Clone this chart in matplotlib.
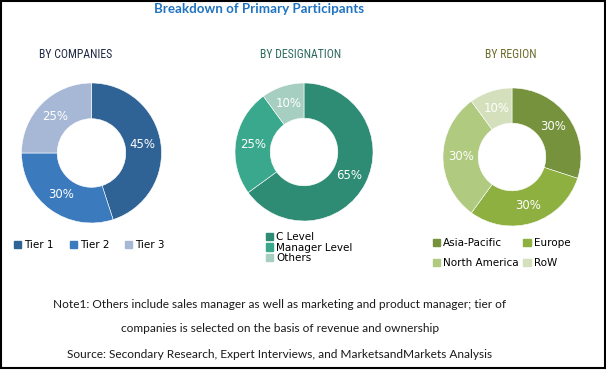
import matplotlib
matplotlib.use("Agg")
import matplotlib.pyplot as plt
from matplotlib.patches import Patch, Rectangle

W, H = 606, 370

# data
company_labels = ["Tier 1", "Tier 2", "Tier 3"]
company_share = [45, 30, 25]
company_colors = ["#2f6295", "#3a7abd", "#a6b8d6"]

designation_labels = ["C Level", "Manager Level", "Others"]
designation_share = [65, 25, 10]
designation_colors = ["#2e8b74", "#3aa88c", "#a7cfc1"]

region_labels = ["Asia-Pacific", "Europe", "North America", "RoW"]
region_share = [30, 30, 30, 10]
region_colors = ["#76923c", "#8db040", "#b0ca80", "#d4e0bc"]

title = "Breakdown of Primary Participants"
note_lines = [
    "Note1: Others include sales manager as well as marketing and product manager; tier of",
    "companies is selected on the basis of revenue and ownership",
    "Source: Secondary Research, Expert Interviews, and MarketsandMarkets Analysis",
]


def px_axes(fig, cx, cy, r):
    # axes centred on a pixel position, y measured from top
    return fig.add_axes([(cx - r) / W, 1 - (cy + r) / H, 2 * r / W, 2 * r / H])


def donut(ax, values, colors, width=0.51):
    ax.pie(values, colors=colors, startangle=90, counterclock=False,
           wedgeprops=dict(width=width, edgecolor="white", linewidth=0.4),
           autopct="%d%%", pctdistance=0.74,
           textprops=dict(color="white", fontsize=8.5, family="DejaVu Sans"))
    ax.set_xlim(-1, 1)
    ax.set_ylim(-1, 1)
    ax.set_aspect("equal")
    ax.axis("off")


fig = plt.figure(figsize=(W / 100, H / 100), dpi=100)
fig.patch.set_facecolor("white")

ax1 = px_axes(fig, 91.5, 153, 70)
donut(ax1, company_share, company_colors)
ax2 = px_axes(fig, 304, 152, 69)
donut(ax2, designation_share, designation_colors)
ax3 = px_axes(fig, 512, 157, 69)
donut(ax3, region_share, region_colors)

fig.text(259 / W, 1 - 9 / H, title, ha="center", va="center", fontsize=9.6,
         fontweight="bold", color="#1f73c0", family="Lato")

sub_font = dict(ha="center", va="center", fontsize=8.5,
                family=["Liberation Sans Narrow", "Roboto Condensed", "Roboto"])
fig.text(76 / W, 1 - 55 / H, "BY COMPANIES", color="#1f2a44", **sub_font)
fig.text(301 / W, 1 - 55 / H, "BY DESIGNATION", color="#2d6a5e", **sub_font)
fig.text(511 / W, 1 - 55 / H, "BY REGION", color="#6b6b2a", **sub_font)

leg_kw = dict(frameon=False, handlelength=0.7, handleheight=0.7,
              handletextpad=0.3, borderaxespad=0, borderpad=0,
              prop=dict(family="DejaVu Sans", size=7.5))

h1 = [Patch(color=c, label=l) for c, l in zip(company_colors, company_labels)]
fig.legend(handles=h1, loc="upper left", bbox_to_anchor=(14 / W, 1 - 240 / H),
           ncol=3, columnspacing=1.5, **leg_kw)

h2 = [Patch(color=c, label=l) for c, l in zip(designation_colors, designation_labels)]
fig.legend(handles=h2, loc="upper left", bbox_to_anchor=(266 / W, 1 - 232 / H),
           ncol=1, labelspacing=0.05, **leg_kw)

# legend fills column by column, so order handles for a row-wise 2x2 grid
h3 = [Patch(color=c, label=l) for c, l in zip(region_colors, region_labels)]
h3 = [h3[0], h3[2], h3[1], h3[3]]
fig.legend(handles=h3, loc="upper left", bbox_to_anchor=(433 / W, 1 - 238 / H),
           ncol=2, labelspacing=1.0, columnspacing=0.4, **leg_kw)

for i, line in enumerate(note_lines):
    fig.text(280 / W, 1 - (304 + 25 * i) / H, line, ha="center", va="center",
             fontsize=8.6, color="#1a1a1a", family="Lato")

fig.add_artist(Rectangle((0.5 / W, 2 / H), 604 / W, 367.5 / H, fill=False,
                         edgecolor="black", linewidth=1.5,
                         transform=fig.transFigure))

fig.savefig("out.png", dpi=100)
